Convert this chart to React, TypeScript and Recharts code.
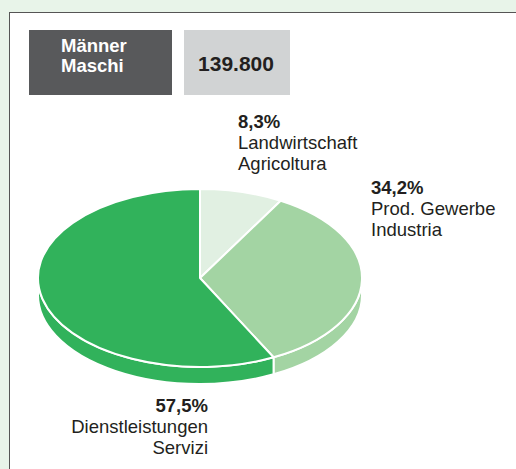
import React from 'react';
import { PieChart, Pie, Cell } from 'recharts';

const categoriesDe = ['Landwirtschaft', 'Prod. Gewerbe', 'Dienstleistungen'];
const categoriesIt = ['Agricoltura', 'Industria', 'Servizi'];
const shares = [8.3, 34.2, 57.5];
const sliceColors = ['#e1f0e2', '#a3d4a3', '#31b25b'];
const headerLabel = ['Männer', 'Maschi'];
const headerTotal = '139.800';

const data = categoriesDe.map((name, i) => ({ name, it: categoriesIt[i], value: shares[i] }));

const FONT = '"Liberation Sans", Arial, Helvetica, sans-serif';
const K = 89 / 162;
const DEPTH = 17;

const labelLayout = [
  { x: 238, y: 128, anchor: 'start' },
  { x: 371, y: 194, anchor: 'start' },
  { x: 208, y: 412, anchor: 'end' },
];

function pt(cx: number, cy: number, r: number, a: number): [number, number] {
  const rad = (a * Math.PI) / 180;
  return [cx + r * Math.cos(rad), cy - r * K * Math.sin(rad)];
}

function EllipseSector(props: any) {
  const { cx, cy, outerRadius: r, startAngle, endAngle, fill } = props;
  const [x1, y1] = pt(cx, cy, r, startAngle);
  const [x2, y2] = pt(cx, cy, r, endAngle);
  const large = Math.abs(endAngle - startAngle) > 180 ? 1 : 0;
  const sweep = startAngle > endAngle ? 1 : 0;
  const top = `M${cx},${cy} L${x1},${y1} A${r},${r * K} 0 ${large} ${sweep} ${x2},${y2} Z`;
  const hi = Math.min(Math.max(startAngle, endAngle), 0);
  const lo = Math.max(Math.min(startAngle, endAngle), -180);
  let side: any = null;
  if (hi > lo) {
    const [a1, b1] = pt(cx, cy, r, hi);
    const [a2, b2] = pt(cx, cy, r, lo);
    const d = `M${a1},${b1} A${r},${r * K} 0 0 1 ${a2},${b2} L${a2},${b2 + DEPTH} A${r},${r * K} 0 0 0 ${a1},${b1 + DEPTH} Z`;
    side = <path d={d} fill={fill} stroke="#fff" strokeWidth={2} strokeLinejoin="round" />;
  }
  return (
    <g>
      {side}
      <path d={top} fill={fill} stroke="#fff" strokeWidth={2} strokeLinejoin="round" />
    </g>
  );
}

function renderLabel(props: any) {
  let i = typeof props.index === 'number' ? props.index : categoriesDe.indexOf(props.name);
  if (i < 0) i = 0;
  const pos = labelLayout[i];
  const pct = shares[i].toFixed(1).replace('.', ',') + '%';
  return (
    <text
      x={pos.x}
      y={pos.y}
      textAnchor={pos.anchor as any}
      fontFamily={FONT}
      fontSize={18.5}
      fill="#231f20"
    >
      <tspan x={pos.x} fontWeight="bold">{pct}</tspan>
      <tspan x={pos.x} dy={21}>{categoriesDe[i]}</tspan>
      <tspan x={pos.x} dy={21}>{categoriesIt[i]}</tspan>
    </text>
  );
}

export default function App() {
  return (
    <div style={{ position: 'relative', width: 516, height: 469, background: '#e8f4e9', overflow: 'hidden' }}>
      <style>{'body{margin:0}'}</style>
      <svg width={516} height={469} style={{ position: 'absolute', left: 0, top: 0 }}>
        <rect x={9.5} y={12.5} width={540} height={480} fill="#fff" stroke="#555" strokeWidth={1} />
        <rect x={29} y={30} width={143} height={65} fill="#58595b" />
        <rect x={184} y={30} width={106} height={65} fill="#d1d3d4" />
        <text x={61} y={52} fontFamily={FONT} fontSize={18.5} fontWeight="bold" fill="#fff">{headerLabel[0]}</text>
        <text x={61} y={72} fontFamily={FONT} fontSize={18.5} fontWeight="bold" fill="#fff">{headerLabel[1]}</text>
        <text x={236} y={71} textAnchor="middle" fontFamily={FONT} fontSize={21} fontWeight="bold" fill="#231f20">{headerTotal}</text>
      </svg>
      <div style={{ position: 'absolute', left: 0, top: 0 }}>
        <PieChart width={516} height={469} margin={{ top: 0, right: 0, bottom: 0, left: 0 }}>
          <Pie
            data={data}
            dataKey="value"
            nameKey="name"
            cx={200}
            cy={278}
            outerRadius={162}
            startAngle={90}
            endAngle={-270}
            stroke="#fff"
            strokeWidth={2}
            isAnimationActive={false}
            shape={EllipseSector}
            activeShape={EllipseSector}
            labelLine={false}
            label={renderLabel}
          >
            {data.map((d, i) => (
              <Cell key={d.name} fill={sliceColors[i]} />
            ))}
          </Pie>
        </PieChart>
      </div>
    </div>
  );
}
